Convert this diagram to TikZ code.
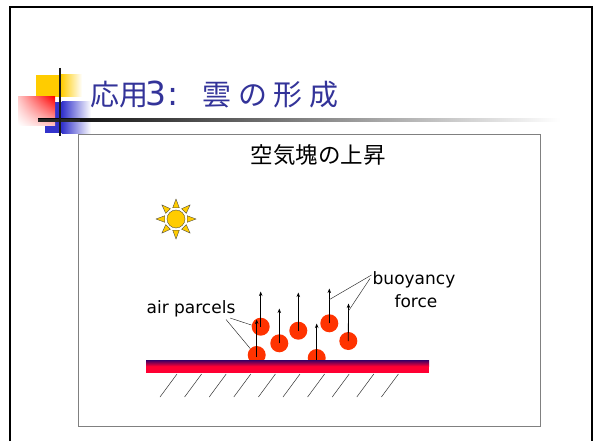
\documentclass[tikz,border=0pt]{standalone}
\usepackage{fontspec}
\setmainfont{DejaVu Sans}
\newfontfamily\jpfont{Noto Sans CJK JP}
\usetikzlibrary{arrows.meta,calc,shadings}

\definecolor{titleblue}{RGB}{51,51,153}
\definecolor{squareyellow}{RGB}{255,204,0}
\definecolor{squareblue}{RGB}{51,51,204}
\definecolor{sunyellow}{RGB}{255,204,0}
\definecolor{parcelred}{RGB}{255,51,0}
\definecolor{barpurple}{RGB}{51,0,102}
\definecolor{barred}{RGB}{255,0,51}

\tikzset{
  parcel/.style={circle, fill=parcelred, draw=none, minimum size=18pt, inner sep=0pt},
  lift/.style={line width=0.8pt, -{Stealth[length=4.5pt,width=3.5pt]}},
  leader/.style={line width=0.45pt, black!85},
  hatch/.style={line width=0.5pt, black!80},
  label/.style={font=\fontsize{17}{17}\selectfont, inner sep=0pt, anchor=base},
  sunray/.style={fill=sunyellow, draw=black!75, line width=0.35pt, line join=miter},
}

\begin{document}
\begin{tikzpicture}[x=1pt, y=-1pt]
  \useasboundingbox (0,0) rectangle (596,441);
  \fill[white] (0,0) rectangle (596,441);

  % slide frame
  \draw[line width=2pt] (10,441) -- (10,7) -- (592,7) -- (592,441);

  % title ornament: coloured squares
  \fill[squareyellow] (36,75) rectangle (61,97);
  \shade[left color=squareyellow, right color=white] (60.9,75) rectangle (82,97);
  \fill[squareblue] (45,102) rectangle (62,133);
  \shade[left color=squareblue, right color=white] (61.9,102) rectangle (91,133);
  \shade[upper right=red, upper left=red!22, lower right=red!25, lower left=white]
    (18,97) rectangle (55,125);
  % title rule and cross bar
  \shade[left color=black, right color=white] (38,118.7) rectangle (560,121.7);
  \fill[black!85] (38,118.7) rectangle (80,121.7);
  \draw[line width=1.6pt, black!90] (60,68) -- (60,136);

  % title: kanji in the CJK face, the "3:" in the Latin face
  \node[anchor=base west, inner sep=0pt, text=titleblue,
        font=\jpfont\fontsize{29}{29}\selectfont] (title) at (90.5,105.8)
        {応用\hspace{-3pt}{\rmfamily\fontsize{33}{33}\selectfont 3\hspace{1pt}:}\hspace{23.5pt}雲\hspace{7pt}の\hspace{6pt}形\hspace{7.5pt}成};

  % picture panel
  \draw[black!50, line width=0.8pt] (78,134) rectangle (540,426);
  \node[anchor=base, inner sep=0pt, font=\jpfont\fontsize{22.5}{22.5}\selectfont]
    (head) at (318,163.5) {空気塊の上昇};

  % sun
  \begin{scope}[shift={(176,219)}]
    \foreach \a in {0,45,...,315}
      \filldraw[sunray] (\a:11.2) ++(\a+90:3.3) -- (\a:20) -- ($(\a:11.2)+(\a-90:3.3)$) -- cycle;
    \filldraw[fill=sunyellow, draw=black!75, line width=0.35pt] (0,0) circle (9);
  \end{scope}

  % air parcels
  \node[parcel] (p1) at (260.7,326.7) {};
  \node[parcel] (p2) at (256.7,355) {};
  \node[parcel] (p3) at (279.3,343.3) {};
  \node[parcel] (p4) at (298.3,330.7) {};
  \node[parcel] (p5) at (316.7,358) {};
  \node[parcel] (p6) at (329.3,323.3) {};
  \node[parcel] (p7) at (348.3,341) {};

  % heated ground surface
  \fill[barred] (146,366) rectangle (429,373);
  \shade[top color=barpurple, bottom color=barred] (146,360) rectangle (429,366.2);

  % ground hatching
  \foreach \i in {0,...,9}
    \draw[hatch] (160+24.6*\i,397) -- ++(17,-23);

  % buoyancy arrows
  \coordinate (t1) at (260.7,291.5);
  \coordinate (t2) at (256.7,319.5);
  \coordinate (t3) at (279.3,308.5);
  \coordinate (t4) at (298.3,292.5);
  \coordinate (t5) at (316.7,323.5);
  \coordinate (t6) at (329.3,288.5);
  \coordinate (t7) at (348.5,303.5);
  \draw[lift] (p1.center) -- (t1);
  \draw[lift] ($(p2.center)+(0,2)$) -- (t2);
  \draw[lift] (p3.center) -- (t3);
  \draw[lift] (p4.center) -- (t4);
  \draw[lift] ($(p5.center)+(0,1.5)$) -- (t5);
  \draw[lift] (p6.center) -- (t6);
  \draw[lift] (p7.center) -- (t7);

  % labels
  \node[label] (air) at (191,313.3) {air parcels};
  \node[label] (buoy) at (414,284) {buoyancy};
  \node[label] (force) at (416,307.7) {force};

  % leader lines
  \coordinate (a1) at (230,318);
  \coordinate (a2) at (226,319.5);
  \draw[leader] (a1) -- (p1.170);
  \draw[leader] (a2) -- (p2.135);
  \coordinate (b1) at (371.5,275);
  \coordinate (b2) at (370,278.5);
  \draw[leader] (b1) -- ($(p6.center)!0.68!(t6)$);
  \draw[leader] (b2) -- ($(p7.center)!0.8!(t7)$);
\end{tikzpicture}
\end{document}
